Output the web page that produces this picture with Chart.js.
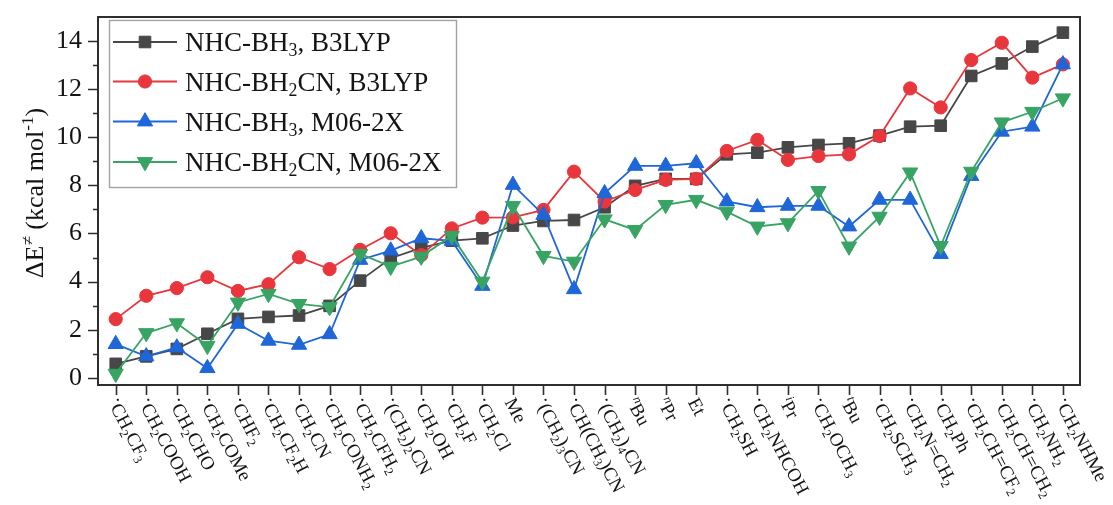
<!DOCTYPE html>
<html>
<head>
<meta charset="utf-8">
<script src="https://cdn.jsdelivr.net/npm/chart.js@4/dist/chart.umd.min.js"></script>
<style>
  html, body { margin: 0; padding: 0; background: #fff; }
  #c { display: block; }
</style>
</head>
<body>
<canvas id="c" width="1113" height="505"></canvas>
<script>
// Radical substituents (mini markup: _x / _{..} subscript, ^x / ^{..} superscript)
const categories = [
  '·CH_2CF_3', '·CH_2COOH', '·CH_2CHO', '·CH_2COMe', '·CHF_2', '·CH_2CF_2H',
  '·CH_2CN', '·CH_2CONH_2', '·CH_2CFH_2', '·(CH_2)_2CN', '·CH_2OH', '·CH_2F',
  '·CH_2Cl', 'Me', '·(CH_2)_3CN', '·CH(CH_3)CN', '·(CH_2)_4CN', '^nBu', '^nPr',
  'Et', '·CH_2SH', '·CH_2NHCOH', '^iPr', '·CH_2OCH_3', '^tBu', '·CH_2SCH_3',
  '·CH_2N=CH_2', '·CH_2Ph', '·CH_2CH=CF_2', '·CH_2CH=CH_2', '·CH_2NH_2', '·CH_2NHMe'
];

// Barrier heights, kcal/mol
const bh3B3LYP = [0.58, 0.89, 1.20, 1.83, 2.45, 2.53, 2.59, 2.99, 4.04, 4.97, 5.40,
  5.70, 5.80, 6.33, 6.52, 6.56, 7.09, 7.98, 8.27, 8.27, 9.29, 9.36, 9.58, 9.68, 9.75,
  10.07, 10.44, 10.48, 12.55, 13.07, 13.77, 14.35];
const bh2cnB3LYP = [2.44, 3.41, 3.73, 4.18, 3.61, 3.89, 5.01, 4.52, 5.32, 6.01, 5.10,
  6.21, 6.66, 6.67, 6.98, 8.57, 7.33, 7.81, 8.23, 8.27, 9.43, 9.89, 9.06, 9.22, 9.29,
  10.05, 12.03, 11.24, 13.21, 13.93, 12.48, 13.03];
const bh3M062X = [1.40, 0.89, 1.26, 0.40, 2.24, 1.54, 1.37, 1.81, 4.90, 5.29, 5.80,
  5.69, 3.82, 8.02, 6.77, 3.68, 7.67, 8.81, 8.81, 8.92, 7.33, 7.09, 7.15, 7.15, 6.29,
  7.40, 7.40, 5.14, 8.39, 10.23, 10.44, 13.03];
const bh2cnM062X = [0.17, 1.86, 2.27, 1.33, 3.13, 3.49, 3.07, 2.94, 5.15, 4.62, 5.04,
  5.90, 4.00, 7.15, 5.07, 4.83, 6.59, 6.15, 7.19, 7.40, 6.91, 6.29, 6.43, 7.77, 5.46,
  6.70, 8.54, 5.48, 8.57, 10.62, 11.06, 11.62];

const seriesNames = ['NHC-BH_3, B3LYP', 'NHC-BH_2CN, B3LYP', 'NHC-BH_3, M06-2X', 'NHC-BH_2CN, M06-2X'];
const yTickValues = [0, 2, 4, 6, 8, 10, 12, 14];
const yMinorTickValues = [1, 3, 5, 7, 9, 11, 13];
const yTitle = 'ΔE^{≠} (kcal mol^{-1})';

const FONT = '"Liberation Serif", "Times New Roman", serif';
const INK = '#141414';
const FRAME = '#2e2e2e';

const styles = [
  { color: '#474747', shape: 'rect', radius: 8.2, rotation: 0 },
  { color: '#e9363c', shape: 'circle', radius: 6.6, rotation: 0 },
  { color: '#1f66d8', shape: 'triangle', radius: 8.8, rotation: 0 },
  { color: '#38a464', shape: 'triangle', radius: 8.8, rotation: 180 }
];

// ---- rich text helpers ----
function parseRich(s) {
  const segs = [];
  let i = 0;
  const push = (text, mode) => {
    if (!text) return;
    const last = segs[segs.length - 1];
    if (last && last.mode === mode) last.text += text; else segs.push({ text, mode });
  };
  while (i < s.length) {
    const ch = s[i];
    if (ch === '_' || ch === '^') {
      const mode = ch === '_' ? 'sub' : 'sup';
      if (s[i + 1] === '{') {
        const end = s.indexOf('}', i + 2);
        push(s.slice(i + 2, end), mode);
        i = end + 1;
      } else {
        push(s[i + 1], mode);
        i += 2;
      }
    } else if (ch === '·') {
      segs.push({ text: '·', mode: 'dot' });
      i += 1;
    } else {
      push(ch, 'n');
      i += 1;
    }
  }
  return segs;
}

function segFont(seg, size) {
  if (seg.mode === 'sub' || seg.mode === 'sup') {
    const italic = seg.mode === 'sup' && /^[a-z]+$/.test(seg.text) ? 'italic ' : '';
    return italic + (size * 0.66).toFixed(1) + 'px ' + FONT;
  }
  return size + 'px ' + FONT;
}

function richWidth(ctx, segs, size) {
  let w = 0;
  for (const seg of segs) {
    ctx.font = segFont(seg, size);
    w += ctx.measureText(seg.text).width;
  }
  return w;
}

// draws on the alphabetic baseline starting at x
function drawRich(ctx, segs, x, y, size) {
  ctx.textBaseline = 'alphabetic';
  ctx.textAlign = 'left';
  for (const seg of segs) {
    ctx.font = segFont(seg, size);
    let dy = 0;
    if (seg.mode === 'sub') dy = size * 0.2;
    else if (seg.mode === 'sup') dy = -size * 0.38;
    else if (seg.mode === 'dot') dy = -size * 0.22;
    ctx.fillText(seg.text, x, y + dy);
    x += ctx.measureText(seg.text).width;
  }
  return x;
}

function drawMarker(ctx, st, x, y) {
  ctx.save();
  ctx.fillStyle = st.color;
  ctx.strokeStyle = st.color;
  ctx.lineWidth = 1;
  ctx.beginPath();
  const r = st.radius;
  if (st.shape === 'rect') {
    const s = Math.SQRT1_2 * r;
    ctx.rect(x - s, y - s, 2 * s, 2 * s);
  } else if (st.shape === 'circle') {
    ctx.arc(x, y, r, 0, Math.PI * 2);
  } else {
    let a = st.rotation * Math.PI / 180;
    ctx.moveTo(x + Math.sin(a) * r, y - Math.cos(a) * r);
    a += 2 * Math.PI / 3;
    ctx.lineTo(x + Math.sin(a) * r, y - Math.cos(a) * r);
    a += 2 * Math.PI / 3;
    ctx.lineTo(x + Math.sin(a) * r, y - Math.cos(a) * r);
    ctx.closePath();
  }
  ctx.fill();
  ctx.stroke();
  ctx.restore();
}

// ---- frame, ticks, category labels, axis title and legend ----
const decorations = {
  id: 'decorations',
  beforeDatasetsDraw(chart) {
    const { ctx, chartArea: a, scales: { x, y } } = chart;
    ctx.save();
    ctx.strokeStyle = FRAME;
    ctx.lineWidth = 2;
    ctx.strokeRect(a.left, a.top, a.right - a.left, a.bottom - a.top);
    ctx.lineWidth = 1.6;
    ctx.beginPath();
    for (const v of yTickValues) {
      const py = Math.round(y.getPixelForValue(v)) + 0.5;
      ctx.moveTo(a.left - 10, py); ctx.lineTo(a.left, py);
    }
    for (const v of yMinorTickValues) {
      const py = Math.round(y.getPixelForValue(v)) + 0.5;
      ctx.moveTo(a.left - 5, py); ctx.lineTo(a.left, py);
    }
    categories.forEach((_, i) => {
      const px = Math.round(x.getPixelForValue(i)) + 0.5;
      ctx.moveTo(px, a.bottom); ctx.lineTo(px, a.bottom + 10);
    });
    ctx.stroke();
    ctx.restore();
  },
  afterDraw(chart) {
    const { ctx, chartArea: a, scales: { x } } = chart;
    ctx.save();
    ctx.fillStyle = INK;

    // rotated category labels
    const labelSize = 19;
    const ang = 62 * Math.PI / 180;
    categories.forEach((lab, i) => {
      const px = x.getPixelForValue(i);
      ctx.save();
      ctx.translate(px - 3, a.bottom + 14);
      ctx.rotate(ang);
      drawRich(ctx, parseRich(lab), 0, labelSize * 0.34, labelSize);
      ctx.restore();
    });

    // y-axis title
    const tSize = 26;
    const tSegs = parseRich(yTitle);
    const tw = richWidth(ctx, tSegs, tSize);
    ctx.save();
    ctx.translate(43, 193);
    ctx.rotate(-Math.PI / 2);
    drawRich(ctx, tSegs, -tw / 2, 0, tSize);
    ctx.restore();

    // legend
    const box = { l: 109.5, t: 20.5, r: 456.5, b: 187.5 };
    ctx.fillStyle = '#fff';
    ctx.fillRect(box.l, box.t, box.r - box.l, box.b - box.t);
    ctx.strokeStyle = '#a3a3a3';
    ctx.lineWidth = 1.4;
    ctx.strokeRect(box.l, box.t, box.r - box.l, box.b - box.t);
    const rows = [42, 81.5, 121.5, 162];
    seriesNames.forEach((name, k) => {
      const st = styles[k];
      const ry = rows[k];
      ctx.strokeStyle = st.color;
      ctx.lineWidth = 1.8;
      ctx.beginPath();
      ctx.moveTo(113, ry); ctx.lineTo(177, ry);
      ctx.stroke();
      drawMarker(ctx, st, 145, ry);
      ctx.fillStyle = INK;
      drawRich(ctx, parseRich(name), 185, ry + 9, 27);
    });
    ctx.restore();
  }
};

const series = [bh3B3LYP, bh2cnB3LYP, bh3M062X, bh2cnM062X];

const datasets = series.map((vals, k) => ({
  label: seriesNames[k],
  data: vals.map((v, i) => ({ x: i, y: v })),
  borderColor: styles[k].color,
  backgroundColor: styles[k].color,
  borderWidth: 1.8,
  pointStyle: styles[k].shape,
  pointRadius: styles[k].radius,
  pointRotation: styles[k].rotation,
  pointBorderWidth: 1,
  pointBackgroundColor: styles[k].color,
  pointBorderColor: styles[k].color,
  tension: 0,
  order: 4 - k
}));

new Chart(document.getElementById('c'), {
  type: 'line',
  data: { datasets },
  options: {
    responsive: false,
    animation: false,
    devicePixelRatio: 1,
    layout: { padding: { top: 17, right: 33, left: 0, bottom: 0 } },
    plugins: { legend: { display: false }, tooltip: { enabled: false } },
    scales: {
      x: {
        type: 'linear',
        min: -0.58,
        max: 31.56,
        afterBuildTicks: s => { s.ticks = categories.map((_, i) => ({ value: i })); },
        afterFit: s => { s.height = 120; s.paddingLeft = 0; s.paddingRight = 0; },
        ticks: { display: false },
        grid: { display: false, drawTicks: false },
        border: { display: false }
      },
      y: {
        type: 'linear',
        min: -0.3,
        max: 15,
        afterBuildTicks: s => { s.ticks = yTickValues.map(v => ({ value: v })); },
        afterFit: s => { s.width = 98; s.paddingTop = 0; s.paddingBottom = 0; },
        ticks: {
          font: { family: FONT, size: 26 },
          color: INK,
          padding: 16,
          callback: v => String(v)
        },
        grid: { display: false, drawTicks: false },
        border: { display: false }
      }
    }
  },
  plugins: [decorations]
});
</script>
</body>
</html>
